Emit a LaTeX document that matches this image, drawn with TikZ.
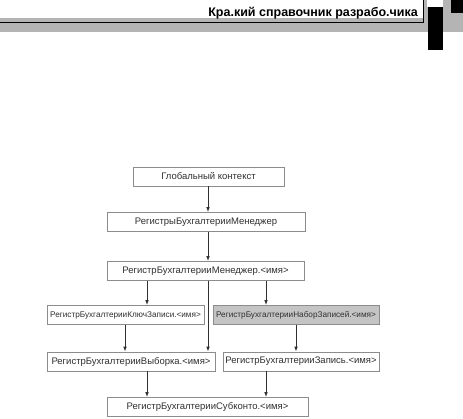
\documentclass[tikz,border=0pt]{standalone}
\usepackage{fontspec}
\setmainfont{Liberation Sans}
\usetikzlibrary{arrows.meta}
\definecolor{bandgray}{HTML}{B4B4B4}
\definecolor{fillgray}{HTML}{C4C4C4}
\definecolor{edgegray}{HTML}{8C8C8C}
\definecolor{inkgray}{HTML}{303030}
\tikzset{
  regbox/.style={draw=edgegray, line width=0.7pt, fill=white, inner sep=0pt,
    minimum height=19, text=inkgray, font=\fontsize{9.5}{10}\selectfont},
  smallbox/.style={regbox, font=\fontsize{8.2}{10}\selectfont},
  conn/.style={draw=inkgray, line width=0.8pt, -{Latex[length=5pt,width=3.6pt]}}
}
\begin{document}
\begin{tikzpicture}[x=1pt, y=-1pt, line cap=butt, line join=miter]
		\useasboundingbox (0,0) rectangle (463,418);
		% page header
		\fill[bandgray] (0,18) rectangle (463,32);
		\fill[bandgray] (423,0) rectangle (463,32);
		\fill[white] (427,0) rectangle (443,7);
		\fill[black] (428,7) rectangle (443,50);
		\fill[black] (451,0) rectangle (463,13);
		\draw[line width=0.9pt] (0,22) -- (423,22) -- (423,0);
		\node[anchor=base east, inner sep=0pt, font=\bfseries\fontsize{12.5}{14}\selectfont] (head) at (418,16.5) {Кра.кий справочник разрабо.чика};
		% boxes
		\node[regbox, minimum width=151] (glob) at (208.5,176.5) {Глобальный контекст};
		\node[regbox, minimum width=198] (mgrs) at (206,222) {РегистрыБухгалтерииМенеджер};
		\node[regbox, minimum width=197] (mgr) at (205.5,271) {РегистрБухгалтерииМенеджер.<имя>};
		\node[smallbox, minimum width=157] (key) at (125.5,315) {РегистрБухгалтерииКлючЗаписи.<имя>};
		\node[smallbox, minimum width=166, fill=fillgray] (set) at (296,315) {РегистрБухгалтерииНаборЗаписей.<имя>};
		\node[regbox, minimum width=168] (sel) at (131,361.5) {РегистрБухгалтерииВыборка.<имя>};
		\node[regbox, minimum width=156] (rec) at (301,361.5) {РегистрБухгалтерииЗапись.<имя>};
		\node[regbox, minimum width=201] (sub) at (207.5,407) {РегистрБухгалтерииСубконто.<имя>};
		% connectors
		\draw[conn] (208,0 |- glob.south) -- (208,0 |- mgrs.north);
		\draw[conn] (208,0 |- mgrs.south) -- (208,0 |- mgr.north);
		\draw[conn] (147,0 |- mgr.south) -- (147,0 |- key.north);
		\draw[conn] (208,0 |- mgr.south) -- (208,0 |- sel.north);
		\draw[conn] (266,0 |- mgr.south) -- (266,0 |- set.north);
		\draw[conn] (125,0 |- key.south) -- (125,0 |- sel.north);
		\draw[conn] (296,0 |- set.south) -- (296,0 |- rec.north);
		\draw[conn] (147,0 |- sel.south) -- (147,0 |- sub.north);
		\draw[conn] (266,0 |- rec.south) -- (266,0 |- sub.north);
	\end{tikzpicture}
\end{document}
